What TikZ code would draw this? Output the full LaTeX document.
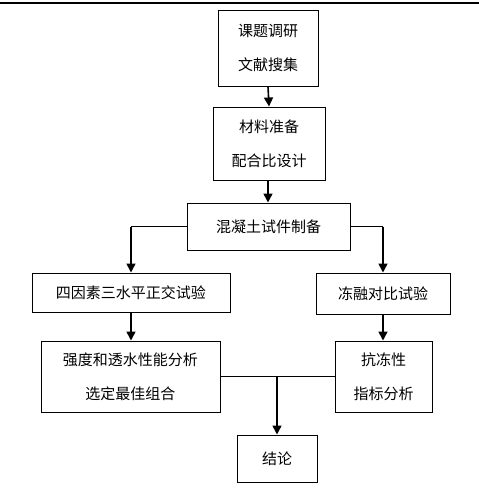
\documentclass[tikz,border=0pt]{standalone}
\usepackage{fontspec}
\setmainfont{Noto Sans CJK SC}
\usetikzlibrary{arrows.meta}
\begin{document}
\begin{tikzpicture}[x=1pt,y=-1pt,
  box/.style={draw,line width=1pt,inner sep=0pt,font=\fontsize{15}{34}\selectfont,align=center},
  arr/.style={line width=1.6pt,-{Triangle[width=9pt,length=9pt]}},
  ln/.style={line width=1pt}]
\useasboundingbox (0,0) rectangle (479,488);
\draw[line width=2pt] (0,3) -- (479,3);
\node[box,minimum width=100pt,minimum height=76pt] (b1) at (268,48) {课题调研\\文献搜集};
\node[box,minimum width=112pt,minimum height=73pt] (b2) at (269,143.5) {材料准备\\配合比设计};
\node[box,minimum width=163pt,minimum height=47pt] (b3) at (268.5,226.5) {混凝土试件制备};
\node[box,minimum width=198pt,minimum height=39pt] (b4) at (131,292.5) {四因素三水平正交试验};
\node[box,minimum width=134pt,minimum height=41pt] (b5) at (383,293.5) {冻融对比试验};
\node[box,minimum width=179pt,minimum height=71pt] (b6) at (130.5,376.5) {强度和透水性能分析\\选定最佳组合};
\node[box,minimum width=97pt,minimum height=71pt] (b7) at (383.5,376.5) {抗冻性\\指标分析};
\node[box,minimum width=80pt,minimum height=47pt] (b8) at (277,458.5) {结论};
\coordinate (jn) at (277,376.5);
\draw[arr] (b1.south) -- (b2.north);
\draw[arr] (b2.south -| b1.south) -- (b3.north -| b1.south);
\draw[ln] (b3.west) -- (b4.north |- b3.west);
\draw[arr] (b4.north |- b3.west) -- (b4.north);
\draw[ln] (b3.east) -- (b5.north |- b3.east);
\draw[arr] (b5.north |- b3.east) -- (b5.north);
\draw[arr] (b4.south) -- (b6.north -| b4.south);
\draw[arr] (b5.south) -- (b7.north -| b5.south);
\draw[ln] (b6.east) -- (b7.west);
\draw[arr] (jn) -- (b8.north);
\end{tikzpicture}
\end{document}
